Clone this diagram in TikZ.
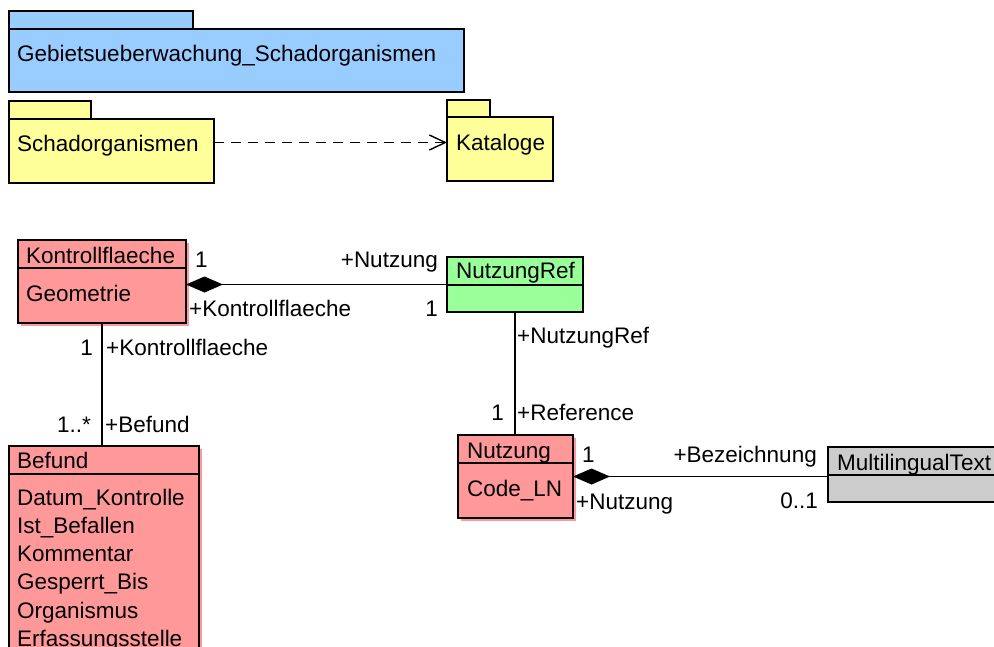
\documentclass[tikz,border=0pt]{standalone}
\usepackage{fontspec}
\setmainfont{Liberation Sans}
\usetikzlibrary{arrows.meta,shadows}

\definecolor{pkgblue}{HTML}{99CCFF}
\definecolor{pkgyellow}{HTML}{FFFF99}
\definecolor{clspink}{HTML}{FF9999}
\definecolor{clsgreen}{HTML}{99FF99}
\definecolor{clsgray}{HTML}{CCCCCC}

\tikzset{
    pkg/.style={draw, line width=1.8pt, anchor=north west, inner sep=0pt, outer sep=0pt},
    umlclass/.style={draw, line width=1.8pt, anchor=north west, inner sep=0pt, outer sep=0pt},
    pinkshadow/.style={drop shadow={fill=clspink, opacity=1, shadow xshift=2.5pt, shadow yshift=-2.5pt}},
    txt/.style={anchor=base west, inner sep=0pt},
    mult/.style={anchor=base east, inner sep=0pt},
    assoc/.style={line width=1.4pt},
    comp/.style={line width=1.4pt, -{Diamond[length=37pt, width=16pt]}},
    dep/.style={line width=1.4pt, dash pattern=on 10pt off 7pt, -{Straight Barb[length=16pt, width=15pt]}},
}

\begin{document}
\begin{tikzpicture}[x=1pt, y=-1pt, font=\fontsize{22.5}{27}\selectfont]
    \useasboundingbox (0,0) rectangle (994,646);

    % packages
    \node[pkg, fill=pkgblue, minimum width=184, minimum height=18] (gebiettab) at (9,11) {};
    \node[pkg, fill=pkgblue, minimum width=455, minimum height=63] (gebiet) at (9,29) {};
    \node[txt] (gebietname) at (17,61) {Gebietsueberwachung\_Schadorganismen};

    \node[pkg, fill=pkgyellow, minimum width=82, minimum height=18] (schadtab) at (9,101) {};
    \node[pkg, fill=pkgyellow, minimum width=205, minimum height=64] (schad) at (9,119) {};
    \node[txt] (schadname) at (17,151) {Schadorganismen};

    \node[pkg, fill=pkgyellow, minimum width=43, minimum height=17] (kattab) at (447,100) {};
    \node[pkg, fill=pkgyellow, minimum width=106, minimum height=64] (kat) at (447,117) {};
    \node[txt] (katname) at (456,150) {Kataloge};

    \draw[dep] ([yshift=8.5pt]schad.east) -- ([yshift=8.5pt]schad.east -| kat.west);

    % classes
    \node[umlclass, fill=clspink, pinkshadow, minimum width=168, minimum height=83] (kontroll) at (18,240) {};
    \draw[line width=1.8pt] (kontroll.north west) ++(0,28) -- ++(168,0);
    \node[txt] (kontrollname) at (26,263) {Kontrollflaeche};
    \node[txt] (kontrollgeom) at (26,301) {Geometrie};

    \node[umlclass, fill=clsgreen, minimum width=136, minimum height=55] (nref) at (447,257) {};
    \draw[line width=1.8pt] (nref.north west) ++(0,28) -- ++(136,0);
    \node[txt] (nrefname) at (456,278) {NutzungRef};

    \node[umlclass, fill=clspink, pinkshadow, minimum width=190, minimum height=240] (befund) at (9,446) {};
    \draw[line width=1.8pt] (befund.north west) ++(0,28) -- ++(190,0);
    \node[txt] (befundname) at (17,468) {Befund};
    \foreach \attr [count=\i] in {Datum\_Kontrolle, Ist\_Befallen, Kommentar, Gesperrt\_Bis, Organismus, Erfassungsstelle}
        \node[txt] (befattr\i) at (17,476.7+28.3*\i) {\attr};

    \node[umlclass, fill=clspink, pinkshadow, minimum width=115, minimum height=83] (nutz) at (458,435) {};
    \draw[line width=1.8pt] (nutz.north west) ++(0,28) -- ++(115,0);
    \node[txt] (nutzname) at (467,458) {Nutzung};
    \node[txt] (nutzcode) at (467,496) {Code\_LN};

    \node[umlclass, fill=clsgray, minimum width=200, minimum height=55] (multi) at (828,447) {};
    \draw[line width=1.8pt] (multi.north west) ++(0,28) -- ++(200,0);
    \node[txt] (multiname) at (837,470) {MultilingualText};

    % connectors
    \draw[comp] (nref.west) -- (nref.west -| kontroll.east);
    \node[txt] (kn1) at (195,267) {1};
    \node[mult] (knrole) at (438,267) {+Nutzung};
    \node[txt] (knrole2) at (189,316) {+Kontrollflaeche};
    \node[mult] (kn2) at (438,316) {1};

    \draw[assoc] (kontroll.south) -- (kontroll.south |- befund.north);
    \node[mult] (kb1) at (93,355) {1};
    \node[txt] (kbrole) at (106,355) {+Kontrollflaeche};
    \node[mult] (kb2) at (91,432) {1..*};
    \node[txt] (kbrole2) at (105,432) {+Befund};

    \draw[assoc] (nref.south) -- (nref.south |- nutz.north);
    \node[txt] (nrrole) at (517,343) {+NutzungRef};
    \node[mult] (nr1) at (504,420) {1};
    \node[txt] (nrrole2) at (517,420) {+Reference};

    \draw[comp] (multi.west |- nutz.east) -- (nutz.east);
    \node[txt] (nm1) at (582,462) {1};
    \node[mult] (nmrole) at (817,462) {+Bezeichnung};
    \node[txt] (nmrole2) at (576,509) {+Nutzung};
    \node[mult] (nm2) at (818,508) {0..1};
\end{tikzpicture}
\end{document}
